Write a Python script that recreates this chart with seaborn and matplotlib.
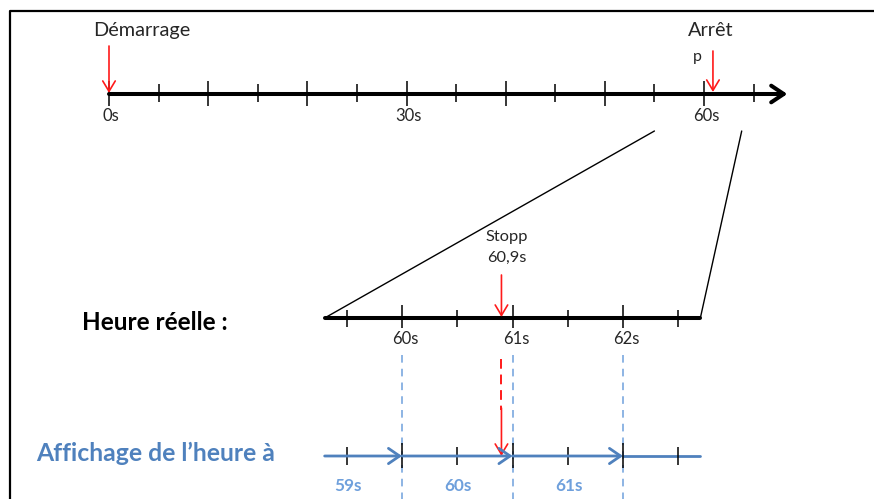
import matplotlib
matplotlib.use("Agg")
import matplotlib.pyplot as plt
import seaborn as sns
import pandas as pd
from matplotlib.patches import ConnectionPatch

# timeline data (seconds)
top_minor = [5, 15, 25, 35, 45, 55, 65]
top_major = [0, 10, 20, 30, 40, 50, 60]
top_label_times = [0, 30, 60]
top_labels = ["0s", "30s", "60s"]
top_end = 68.4
start_time = 0
stop_time = 60.9

zoom_top = [55, 63.8]      # window on the top scale
zoom_mid = [59.3, 62.7]    # same window on the zoomed scale

mid_minor = [59.5, 60.5, 61.5, 62.5]
mid_major = [60, 61, 62]
mid_labels = ["60s", "61s", "62s"]

disp_steps = [60, 61, 62]
disp_label_times = [59.5, 60.5, 61.5]
disp_labels = ["59s", "60s", "61s"]

sns.set_theme(style="white")
plt.rcParams["font.family"] = ["Lato", "DejaVu Sans"]

W, H = 874, 499
fig = plt.figure(figsize=(W / 100, H / 100), dpi=100)

base = fig.add_axes([0, 0, 1, 1])
base.set_xlim(0, W)
base.set_ylim(H, 0)
base.axis("off")


def timeline_axes(origin_px, origin_t, px_per_s):
    ax = fig.add_axes([0, 0, 1, 1])
    ax.set_xlim(origin_t - origin_px / px_per_s, origin_t + (W - origin_px) / px_per_s)
    ax.set_ylim(H, 0)
    ax.axis("off")
    ax.patch.set_visible(False)
    return ax


ax_top = timeline_axes(109, 0, 9.917)
ax_mid = timeline_axes(402, 60, 110.5)

BLACK = "#000000"
RED = "#ff1a1a"
BLUE = "#4f81bd"
LBLUE = "#6fa0dc"

# frame
base.plot([10, 10, W], [H, 11, 11], color=BLACK, lw=1.6, solid_capstyle="butt")

# ---- top timeline ----
y0 = 94
ax_top.annotate("", xy=(top_end, y0), xytext=(start_time, y0),
                arrowprops=dict(arrowstyle="->,head_length=0.9,head_width=0.6",
                                lw=2.9, color=BLACK, shrinkA=0, shrinkB=0,
                                mutation_scale=10))
ax_top.vlines(top_major, 81, 106, color=BLACK, lw=1.1)
ax_top.vlines(top_minor, 84, 102, color=BLACK, lw=1.1)
for t, lab in zip(top_label_times, top_labels):
    ax_top.text(t + 0.2, 116, lab, ha="center", va="center", fontsize=12)

red_arrow = dict(arrowstyle="->,head_length=0.75,head_width=0.45", lw=1.2,
                 color=RED, shrinkA=0, shrinkB=0, mutation_scale=10)
ax_top.annotate("", xy=(start_time, y0 - 1), xytext=(start_time, 46), arrowprops=red_arrow)
ax_top.annotate("", xy=(stop_time, y0 - 2), xytext=(stop_time, 51), arrowprops=red_arrow)
ax_top.text(start_time + 3.3, 30, "Démarrage", ha="center", va="center", fontsize=14.3)
ax_top.text(stop_time - 0.2, 30, "Arrêt", ha="center", va="center", fontsize=14.3)
ax_top.text(stop_time - 1.6, 57, "p", ha="center", va="center", fontsize=11.5)

# zoom connectors
for tt, tm in zip(zoom_top, zoom_mid):
    con = ConnectionPatch(xyA=(tt, 131), coordsA=ax_top.transData,
                          xyB=(tm, 318), coordsB=ax_mid.transData,
                          color=BLACK, lw=1.0)
    fig.add_artist(con)

# ---- real time (zoomed) timeline ----
y1 = 318
line_df = pd.DataFrame({"t": zoom_mid, "y": [y1, y1]})
sns.lineplot(data=line_df, x="t", y="y", ax=ax_mid, color=BLACK, lw=2.9)
ax_mid.set_ylim(H, 0)
ax_mid.axis("off")
ax_mid.vlines(mid_major, 305, 328, color=BLACK, lw=1.1)
ax_mid.vlines(mid_minor, 310, 327, color=BLACK, lw=1.1)
for t, lab in zip(mid_major, mid_labels):
    ax_mid.text(t + 0.03, 339, lab, ha="center", va="center", fontsize=12)
ax_mid.annotate("", xy=(stop_time, y1 - 1), xytext=(stop_time, 275), arrowprops=red_arrow)
ax_mid.text(stop_time + 0.05, 237, "Stopp", ha="center", va="center", fontsize=11.8)
ax_mid.text(stop_time + 0.05, 258, "60,9s", ha="center", va="center", fontsize=11.8)
base.text(155, 322, "Heure réelle :", ha="center", va="center", fontsize=17.5,
          fontweight="bold", color=BLACK)

# ---- displayed time timeline ----
y2 = 456
ax_mid.vlines(disp_steps, 355, H, color=LBLUE, lw=1.1, linestyles=(0, (5, 4)))
ax_mid.plot([stop_time, stop_time], [359, 410], color=RED, lw=1.4, linestyle=(0, (5, 3)))
ax_mid.annotate("", xy=(stop_time, y2), xytext=(stop_time, 408), arrowprops=red_arrow)

blue_arrow = dict(arrowstyle="->,head_length=0.8,head_width=0.55", lw=2.0,
                  color=BLUE, shrinkA=0, shrinkB=0, mutation_scale=10)
seg_starts = [zoom_mid[0]] + disp_steps[:-1]
for a, b in zip(seg_starts, disp_steps):
    ax_mid.annotate("", xy=(b, y2), xytext=(a, y2), arrowprops=blue_arrow)
ax_mid.plot([disp_steps[-1], zoom_mid[1]], [y2, y2], color=BLUE, lw=2.0)
ax_mid.vlines(disp_steps, 443, 468, color=BLACK, lw=1.1)
ax_mid.vlines(mid_minor, 447, 465, color=BLACK, lw=1.1)
for t, lab in zip(disp_label_times, disp_labels):
    ax_mid.text(t + 0.01, 486, lab, ha="center", va="center", fontsize=12.3,
                fontweight="bold", color=LBLUE)
base.text(156, 453, "Affichage de l\u2019heure à", ha="center", va="center",
          fontsize=17.8, fontweight="bold", color=BLUE)

fig.savefig("out.png", dpi=100)
